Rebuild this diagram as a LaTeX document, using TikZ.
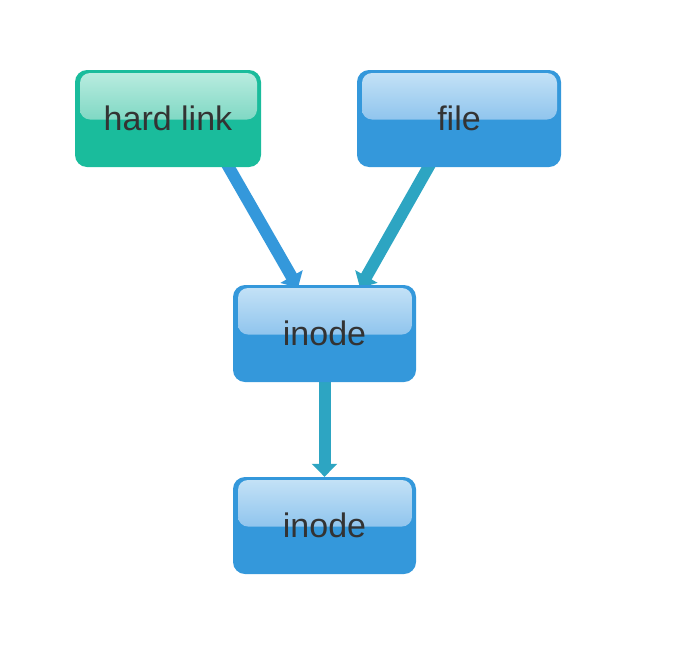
\documentclass[tikz,border=0pt]{standalone}
\usepackage{fontspec}
\setmainfont{Liberation Sans}
\usetikzlibrary{arrows.meta,backgrounds}

\definecolor{boxblue}{HTML}{3498DB}
\definecolor{boxgreen}{HTML}{1ABC9C}
\definecolor{linkteal}{HTML}{2DA5C2}
\definecolor{textgray}{HTML}{333333}
\definecolor{blueglosstop}{RGB}{198,227,247}
\definecolor{blueglossbot}{RGB}{92,168,228}
\definecolor{greenglosstop}{RGB}{188,237,225}
\definecolor{greenglossbot}{RGB}{70,196,168}

\begin{document}
\begin{tikzpicture}[
    x=1pt, y=-1pt,
    box/.style={rectangle, rounded corners=12pt, inner sep=0pt,
        minimum height=97pt, text=textgray,
        font=\fontsize{34}{40}\selectfont},
    gloss/.style 2 args={path picture={
        \fill[rounded corners=10pt, top color=#1, bottom color=#2]
            ([xshift=5pt,yshift=-3pt]path picture bounding box.north west)
            rectangle ([xshift=-4pt,yshift=-1pt]path picture bounding box.east);}},
    bluebox/.style={box, fill=boxblue, gloss={blueglosstop}{blueglossbot}},
    greenbox/.style={box, fill=boxgreen, gloss={greenglosstop}{greenglossbot}},
    link/.style={line width=12pt, -{Triangle[width=25pt,length=13pt]}}
]
\useasboundingbox (0,0) rectangle (685,656);

% Nodes
\node[greenbox, minimum width=186pt] (hl) at (168,118.5) {hard link};
\node[bluebox, minimum width=204pt] (file) at (459,118.5) {file};
\node[bluebox, minimum width=183pt] (in1) at (324.5,333.5) {inode};
\node[bluebox, minimum width=183pt] (in2) at (324.5,525.5) {inode};

% Links
\begin{scope}[on background layer]
\draw[link, boxblue] ([xshift=51pt,yshift=17pt]hl.south) -- ([xshift=-26.5pt,yshift=-3pt]in1.north);
\draw[link, linkteal] ([xshift=-21pt,yshift=17pt]file.south) -- ([xshift=35.5pt,yshift=-3pt]in1.north);
\draw[link, linkteal] (in1.center) -- (in2.north);
\end{scope}

\end{tikzpicture}
\end{document}
